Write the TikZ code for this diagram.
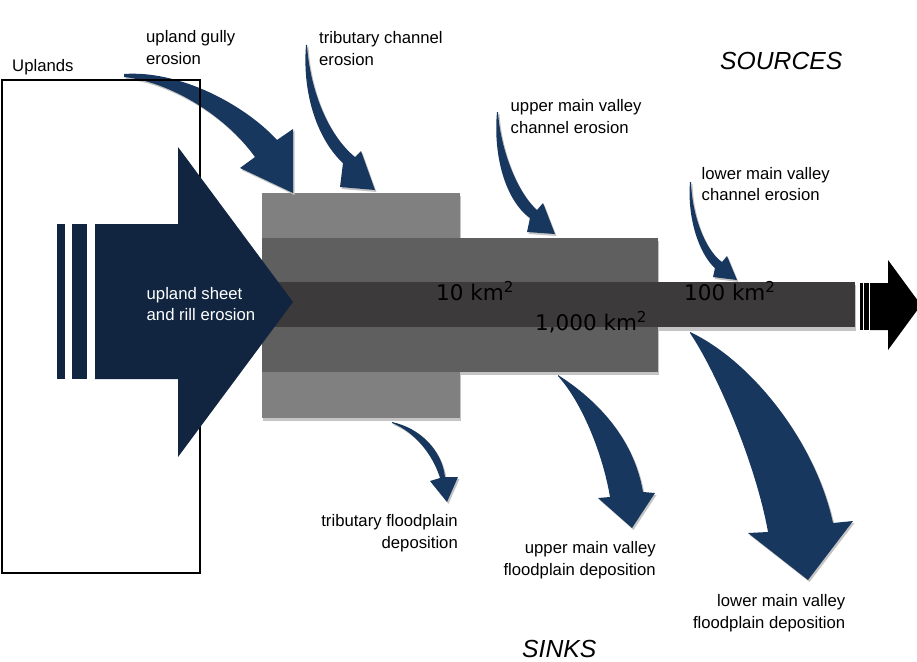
\documentclass[tikz,border=0pt]{standalone}
\usepackage{fontspec}
\setmainfont{Liberation Sans}
\newfontfamily\areafont{DejaVu Sans}
\usetikzlibrary{shadows}

\definecolor{flownavy}{RGB}{24,55,94}
\definecolor{sheetnavy}{RGB}{17,37,64}
\definecolor{tribgrey}{RGB}{128,128,128}
\definecolor{uppergrey}{RGB}{96,95,95}
\definecolor{lowergrey}{RGB}{60,58,58}
\definecolor{shadowgrey}{RGB}{196,196,196}

\begin{document}
\begin{tikzpicture}[
    x=1pt, y=-1pt,
    label text/.style={inner sep=0, font=\fontsize{16.7}{21.6}\selectfont, align=left, anchor=base west},
    deposit text/.style={label text, align=right, anchor=base east},
    area text/.style={inner sep=0, font=\areafont\fontsize{21.5}{24}\selectfont, anchor=base west},
    corner text/.style={inner sep=0, font=\fontsize{24.7}{28}\selectfont\itshape, anchor=base west},
    flow arrow/.style={fill=flownavy, drop shadow={shadow xshift=1.5pt, shadow yshift=-2pt, fill=shadowgrey, opacity=1}},
    block shadow/.style={fill=shadowgrey}
]
    \useasboundingbox (0,0) rectangle (917,661);

    % Valley blocks
    \fill[block shadow] (263,196) rectangle (461,421);
    \fill[block shadow] (263,241) rectangle (659,375);
    \fill[block shadow] (263,285) rectangle (856,331);
    \fill[tribgrey] (262,193) rectangle (460,418);
    \fill[uppergrey] (262,238) rectangle (658,372);
    \fill[lowergrey] (262,282) rectangle (855,327);

    % Upland gully erosion
    \fill[flow arrow] (124,74) .. controls (180,70) and (245,105) .. (277,140)
        -- (293,129) -- (293,193) -- (240,168) -- (255,157)
        .. controls (225,115) and (170,82) .. (124,77) -- cycle;

    % Uplands
    \draw[line width=1.6pt] (2,80) rectangle (200,573);
    \node[label text] (uplands) at (12,71) {Uplands};

    % Upland sheet and rill erosion
    \fill[sheetnavy] (57,224) rectangle (65,379);
    \fill[sheetnavy] (72,224) rectangle (87,379);
    \fill[sheetnavy] (95,224) -- (178,224) -- (178,147) -- (293,302)
        -- (178,457) -- (178,379) -- (95,379) -- cycle;

    % Channel erosion (sources)
    \fill[flow arrow] (306,45) .. controls (302,95) and (318,140) .. (343,163)
        -- (340,187) -- (375,190) -- (361,151) -- (355,157)
        .. controls (328,135) and (310,90) .. (307,45) -- cycle;
    \fill[flow arrow] (497,112) .. controls (493,155) and (505,200) .. (530,218)
        -- (527,232) -- (555,234) -- (543,203) -- (537,210)
        .. controls (515,190) and (500,145) .. (498,112) -- cycle;
    \fill[flow arrow] (690,182) .. controls (687,220) and (700,255) .. (715,268)
        -- (713,277) -- (737,280) -- (727,256) -- (722,262)
        .. controls (705,250) and (692,215) .. (691,182) -- cycle;

    % Floodplain deposition (sinks)
    \fill[flow arrow] (392,422) .. controls (420,428) and (442,450) .. (445,477)
        -- (458,477) -- (447,502) -- (430,481) -- (440,478)
        .. controls (433,455) and (415,432) .. (392,423) -- cycle;
    \fill[flow arrow] (558,375) .. controls (605,405) and (635,445) .. (643,492)
        -- (655,493) -- (632,528) -- (598,498) -- (610,497)
        .. controls (602,450) and (580,400) .. (558,376) -- cycle;
    \fill[flow arrow] (690,332) .. controls (750,360) and (815,440) .. (833,523)
        -- (853,521) -- (808,580) -- (748,533) -- (768,532)
        .. controls (755,460) and (715,370) .. (690,333) -- cycle;

    % Outlet
    \fill[black] (860,283) rectangle (862.5,330);
    \fill[black] (864,283) rectangle (869,330);
    \fill[black] (870,283) -- (888,283) -- (888,260) -- (921,305)
        -- (888,350) -- (888,330) -- (870,330) -- cycle;

    % Labels (base = last line)
    \node[label text] (gully) at (146,64.3) {upland gully\\erosion};
    \node[label text] (tribchan) at (319,65) {tributary channel\\erosion};
    \node[label text] (upchan) at (510.5,133) {upper main valley\\channel erosion};
    \node[label text] (lowchan) at (701.5,200.7) {lower main valley\\channel erosion};
    \node[label text, text=white] (sheet) at (146.5,320.7) {upland sheet\\and rill erosion};
    \node[deposit text] (tribfp) at (458,548) {tributary floodplain\\deposition};
    \node[deposit text] (upfp) at (656,575) {upper main valley\\floodplain deposition};
    \node[deposit text] (lowfp) at (845.5,628) {lower main valley\\floodplain deposition};

    \node[area text] (area10) at (436,300) {10 km\textsuperscript{2}};
    \node[area text] (area1000) at (535,330) {1,000 km\textsuperscript{2}};
    \node[area text] (area100) at (684,300) {100 km\textsuperscript{2}};

    \node[corner text] (sources) at (720,69) {SOURCES};
    \node[corner text] (sinks) at (522,657) {SINKS};
\end{tikzpicture}
\end{document}
